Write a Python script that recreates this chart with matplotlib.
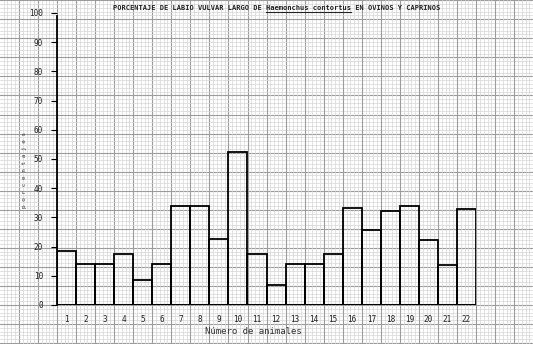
import numpy as np
import matplotlib
matplotlib.use("Agg")
import matplotlib.pyplot as plt

# ------------------------------------------------------------
# Data
# ------------------------------------------------------------
animales = list(range(1, 23))
porcentaje = [18.5, 14, 14, 17.4, 8.4, 14, 33.8, 33.8, 22.6, 52.3, 17.4,
              6.7, 14, 14, 17.4, 33.3, 25.7, 32.2, 34, 22.3, 13.6, 32.8]
y_ticks = list(range(0, 101, 10))

titulo = "PORCENTAJE DE LABIO VULVAR LARGO DE "
especie = "Haemonchus contortus"
titulo_fin = " EN OVINOS Y CAPRINOS"

W, H = 533, 344
fig = plt.figure(figsize=(W / 100, H / 100), dpi=100)
fig.patch.set_facecolor("white")

# ------------------------------------------------------------
# Graph paper background (pixel coordinates)
# ------------------------------------------------------------
bg = fig.add_axes([0, 0, 1, 1], zorder=0)
bg.set_xlim(0, W)
bg.set_ylim(H, 0)
bg.axis("off")
step = 19.05
fine = step / 5
x0, y0 = 57, 305
for k in range(-20, 160):
    major = (k % 5 == 0)
    col = "#9c9c9c" if major else "#d6d6d6"
    lw = 0.8 if major else 0.5
    x = x0 + k * fine
    if 0 <= x <= W:
        bg.axvline(x, color=col, lw=lw)
    y = y0 - k * fine
    if 0 <= y <= H:
        bg.axhline(y, color=col, lw=lw)

# ------------------------------------------------------------
# Main chart
# ------------------------------------------------------------
ax = fig.add_axes([57 / W, 1 - 305 / H, (476 - 57) / W, (305 - 13) / H], zorder=2)
ax.patch.set_alpha(0)
ax.bar(animales, porcentaje, width=1.0, fill=False, edgecolor="black",
       linewidth=1.3, zorder=3)
ax.hlines(0, 0.5, 22.5, color="black", lw=2.2, zorder=4)
ax.set_xlim(0.5, 22.5)
ax.set_ylim(0, 100)

for s in ["top", "right", "bottom"]:
    ax.spines[s].set_visible(False)
ax.spines["left"].set_linewidth(1.3)
ax.spines["left"].set_bounds(0, 99)

mono = "DejaVu Sans Mono"
ax.set_yticks(y_ticks)
ax.set_yticklabels([str(v) for v in y_ticks], fontsize=5.5, family=mono,
                   color="#222222")
ax.tick_params(axis="y", length=4, width=0.8, pad=6, direction="out")
ax.set_xticks(animales)
ax.set_xticklabels([str(v) for v in animales], fontsize=5.5, family=mono,
                   color="#222222")
ax.tick_params(axis="x", length=0, pad=7)

# Axis labels
fig.text(253 / W, 1 - 331 / H, "Número de animales", fontsize=6.5,
         family=mono, ha="center", va="center", color="#333333")
fig.text(25 / W, 1 - 170 / H, "p o r c e n t a j e s", fontsize=4.3,
         family=mono, rotation=90, ha="center", va="center", color="#333333")

# Title with underlined species name
t1 = fig.text(113 / W, 1 - 8 / H, titulo, fontsize=5, family=mono,
              fontweight="bold", ha="left", va="center", color="#222222")
fig.canvas.draw()
r = fig.canvas.get_renderer()
bb1 = t1.get_window_extent(r)
t2 = fig.text(bb1.x1 / W, 1 - 8 / H, especie, fontsize=5, family=mono,
              fontweight="bold", ha="left", va="center", color="#222222")
bb2 = t2.get_window_extent(r)
fig.add_artist(plt.Line2D([bb2.x0 / W, bb2.x1 / W],
                          [(bb2.y0 - 1) / H, (bb2.y0 - 1) / H],
                          color="#222222", lw=0.8))
fig.text(bb2.x1 / W, 1 - 8 / H, titulo_fin, fontsize=5, family=mono,
         fontweight="bold", ha="left", va="center", color="#222222")

fig.savefig("out.png", dpi=100)
